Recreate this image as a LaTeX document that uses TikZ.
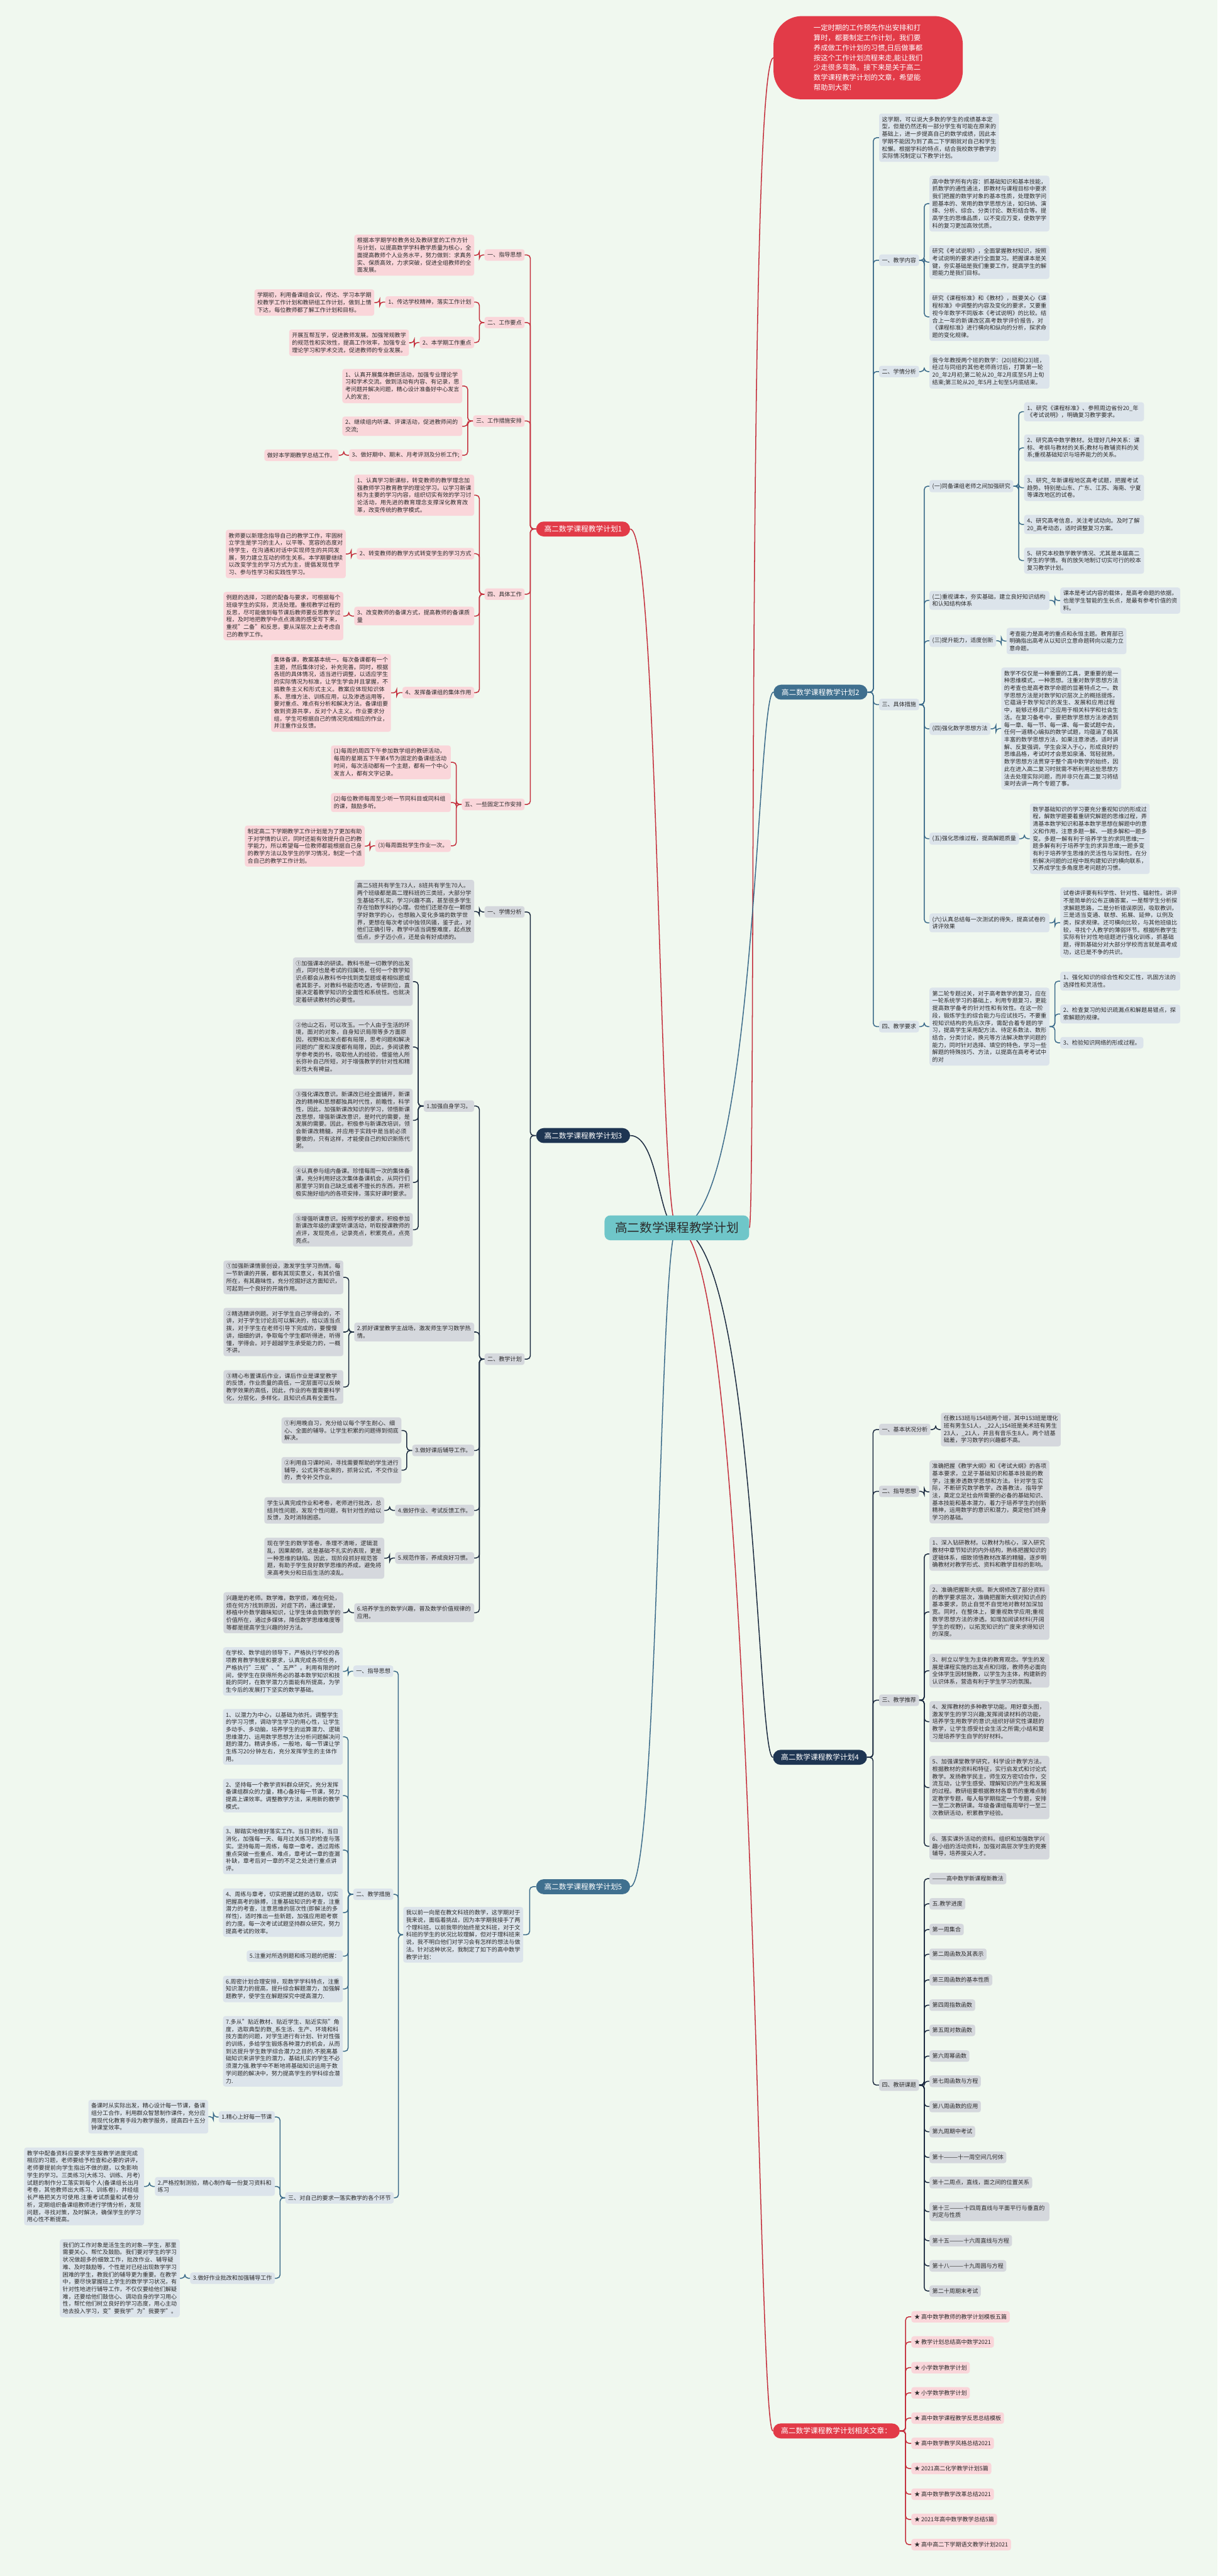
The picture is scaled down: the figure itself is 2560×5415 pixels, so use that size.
\documentclass[tikz,border=0pt]{standalone}
\usepackage{fontspec}
\setmainfont{Noto Sans CJK SC}
\XeTeXlinebreaklocale "zh"
\XeTeXlinebreakskip=0pt plus 1pt
\usetikzlibrary{calc}
\definecolor{bgc}{HTML}{F0F8EF}
\definecolor{pinkbox}{HTML}{FAD6DA}
\definecolor{redline}{HTML}{C4303D}
\definecolor{redlab}{HTML}{E23B48}
\definecolor{bluebox}{HTML}{DCE4EB}
\definecolor{blueline}{HTML}{3C6B8A}
\definecolor{bluelab}{HTML}{40708F}
\definecolor{greybox}{HTML}{D5D8DD}
\definecolor{navyline}{HTML}{1C2B40}
\definecolor{navylab}{HTML}{1E3552}
\definecolor{txt}{HTML}{2B2B2B}
\definecolor{teal}{HTML}{6FC6C9}
\newcommand\fsm{\fontsize{12pt}{15.5pt}\selectfont}
\newcommand\flab{\fontsize{15.5pt}{18pt}\selectfont}
\newcommand\fcen{\fontsize{26pt}{30pt}\selectfont}
\newcommand\fintro{\fontsize{15pt}{21pt}\selectfont}
\pgfdeclarelayer{back}\pgfdeclarelayer{conn}\pgfsetlayers{back,conn,main}
\tikzset{
  nb/.style={rounded corners=5pt, inner xsep=6pt, inner ysep=6.5pt, align=left, font=\fsm, text=txt},
  W/.style={text width=240pt},
  pk/.style={nb, fill=pinkbox},
  bl/.style={nb, fill=bluebox},
  gy/.style={nb, fill=greybox},
  lab/.style={rounded corners=16pt, inner xsep=17pt, inner ysep=8.5pt, font=\flab, text=white},
  cr/.style={draw=redline, line width=2pt, rounded corners=7pt},
  cb/.style={draw=blueline, line width=2pt, rounded corners=7pt},
  cn/.style={draw=navyline, line width=2pt, rounded corners=7pt},
}
\newcommand\RC[3]{\begin{pgfonlayer}{conn}\draw[#1] (#2.east) -- ($(#2.east)!0.5!(#2.east -| #3.west)$) |- (#3.west);\end{pgfonlayer}}
\newcommand\LC[3]{\begin{pgfonlayer}{conn}\draw[#1] (#2.west) -- ($(#2.west)!0.5!(#2.west -| #3.east)$) |- (#3.east);\end{pgfonlayer}}
\begin{document}
\begin{tikzpicture}[x=1pt,y=-1pt]
\begin{pgfonlayer}{back}
\fill[bgc] (0,0) rectangle (2560,5415);
\end{pgfonlayer}
\useasboundingbox (0,0) rectangle (2560,5415);

% ---------- centre and intro ----------
\node[fill=teal, rounded corners=12pt, inner xsep=22pt, inner ysep=14pt, font=\fcen, text=txt] (C) at (1423,2581) {高二数学课程教学计划};
\node[fill=redlab, rounded corners=60pt, minimum width=398pt, minimum height=175pt, anchor=south west, align=left, font=\fintro, text=white] (I) at (1626,209) {一定时期的工作预先作出安排和打\\算时，都要制定工作计划，我们要\\养成做工作计划的习惯,日后做事都\\按这个工作计划流程来走,能让我们\\少走很多弯路。接下来是关于高二\\数学课程教学计划的文章，希望能\\帮助到大家!};

% ---------- branch labels ----------
\node[lab, fill=redlab, anchor=west] (L1) at (1127,1112) {高二数学课程教学计划1};
\node[lab, fill=bluelab, anchor=west] (L2) at (1626,1455) {高二数学课程教学计划2};
\node[lab, fill=navylab, anchor=west] (L3) at (1127,2387) {高二数学课程教学计划3};
\node[lab, fill=navylab, anchor=west] (L4) at (1625,3694) {高二数学课程教学计划4};
\node[lab, fill=bluelab, anchor=west] (L5) at (1127,3966) {高二数学课程教学计划5};
\node[lab, fill=redlab, anchor=west] (L6) at (1625,5110) {高二数学课程教学计划相关文章：};

\begin{pgfonlayer}{conn}
\draw[cr] (C.east) .. controls (1590,2581) and (1570,131) .. (I.west);
\draw[cb] (C.center) .. controls (1590,2581) and (1590,1455) .. (L2.west);
\draw[cn] (C.center) .. controls (1590,2581) and (1590,3694) .. (L4.west);
\draw[cr] (C.center) .. controls (1590,2581) and (1590,5110) .. (L6.west);
\draw[cr] (C.center) .. controls (1385,2581) and (1385,1112) .. (L1.east);
\draw[cn] (C.center) .. controls (1385,2581) and (1385,2387) .. (L3.east);
\draw[cb] (C.center) .. controls (1385,2581) and (1385,3966) .. (L5.east);
\end{pgfonlayer}

% ---------- branch 1 (left, red) ----------
\node[pk, anchor=east] (a1) at (1103,536) {一、指导思想};
\node[pk, W, anchor=east] (a1a) at (997,536.5) {根据本学期学校教务处及教研室的工作方针与计划，以提高数学学科教学质量为核心，全面提高教师个人业务水平，努力做到：求真务实、保质高效，力求突破，促进全组教师的全面发展。};
\node[pk, anchor=east] (a2) at (1103,678) {二、工作要点};
\node[pk, anchor=east] (a2a) at (997,635) {1、传达学校精神，落实工作计划};
\node[pk, W, anchor=east] (a2a1) at (787,636) {学期初，利用备课组会议，传达、学习本学期校教学工作计划和教研组工作计划，做到上情下达，每位教师都了解工作计划和目标。};
\node[pk, anchor=east] (a2b) at (997,720) {2、本学期工作重点};
\node[pk, W, anchor=east] (a2b1) at (860,720.5) {开展互帮互学，促进教师发展。加强常规教学的规范性和实效性，提高工作效率，加强专业理论学习和学术交流，促进教师的专业发展。};
\node[pk, anchor=east] (a3) at (1103,885) {三、工作措施安排};
\node[pk, W, anchor=east] (a3a) at (972,811.5) {1、认真开展集体教研活动，加强专业理论学习和学术交流。做到活动有内容、有记录，思考问题并解决问题，精心设计准备好中心发言人的发言;};
\node[pk, W, anchor=east] (a3b) at (972,896) {2、继续组内听课、评课活动，促进教师间的交流;};
\node[pk, anchor=east] (a3c) at (972,957) {3、做好期中、期末、月考评测及分析工作;};
\node[pk, anchor=east] (a3c1) at (712,957) {做好本学期教学总结工作。};
\node[pk, anchor=east] (a4) at (1103,1249) {四、具体工作};
\node[pk, W, anchor=east] (a4a) at (997,1041) {1、认真学习新课标，转变教师的教学理念加强教师学习教育教学的理论学习。以学习新课标为主要的学习内容，组织切实有效的学习讨论活动，用先进的教育理念支撑深化教育改革，改变传统的教学模式。};
\node[pk, anchor=east] (a4b) at (997,1164) {2、转变教师的教学方式转变学生的学习方式};
\node[pk, W, anchor=east] (a4b1) at (727,1164.5) {教师要以新理念指导自己的教学工作，牢固树立学生是学习的主人，以平等、宽容的态度对待学生，在沟通和对话中实现师生的共同发展，努力建立互动的师生关系。本学期要继续以改变学生的学习方式为主，提倡发现性学习、参与性学习和实践性学习。};
\node[pk, W, anchor=east] (a4c) at (997,1295) {3、改变教师的备课方式，提高教师的备课质量};
\node[pk, W, anchor=east] (a4c1) at (722,1295) {例题的选择，习题的配备与要求，可根据每个班级学生的实际，灵活处理。重视教学过程的反思，尽可能做到每节课后教师要反思教学过程，及时地把教学中点点滴滴的感受写下来，重视"二备"和反思，要从深层次上去考虑自己的教学工作。};
\node[pk, anchor=east] (a4d) at (997,1456) {4、发挥备课组的集体作用};
\node[pk, W, anchor=east] (a4d1) at (822,1456.5) {集体备课，教案基本统一。每次备课都有一个主题，然后集体讨论，补充完善。同时，根据各班的具体情况，适当进行调整，以适应学生的实际情况为标准，让学生学会并且掌握，不搞教条主义和形式主义。教案应体现知识体系、思维方法、训练应用，以及渗透运用等，要对重点、难点有分析和解决方法。备课组要做到资源共享，反对个人主义。作业要求分组，学生可根据自己的情况完成相应的作业，并注重作业反馈。};
\node[pk, anchor=east] (a5) at (1103,1691) {五、一些固定工作安排};
\node[pk, W, anchor=east] (a5a) at (948,1602.5) {(1)每周的周四下午参加数学组的教研活动，每周的星期五下午第4节为固定的备课组活动时间，每次活动都有一个主题，都有一个中心发言人，都有文字记录。};
\node[pk, W, anchor=east] (a5b) at (948,1687) {(2)每位教师每周至少听一节同科目或同科组的课，鼓励多听。};
\node[pk, anchor=east] (a5c) at (948,1778) {(3)每周面批学生作业一次。};
\node[pk, W, anchor=east] (a5c1) at (767,1778.5) {制定高二下学期教学工作计划是为了更加有助于对学情的认识，同时还能有效提升自己的教学能力，所以希望每一位教师都能根据自己身的教学方法以及学生的学习情况，制定一个适合自己的教学工作计划。};
\foreach \c in {a1,a2,a3,a4,a5} {\LC{cr}{L1}{\c}}
\LC{cr}{a1}{a1a}
\LC{cr}{a2}{a2a}\LC{cr}{a2}{a2b}\LC{cr}{a2a}{a2a1}\LC{cr}{a2b}{a2b1}
\LC{cr}{a3}{a3a}\LC{cr}{a3}{a3b}\LC{cr}{a3}{a3c}\LC{cr}{a3c}{a3c1}
\LC{cr}{a4}{a4a}\LC{cr}{a4}{a4b}\LC{cr}{a4}{a4c}\LC{cr}{a4}{a4d}
\LC{cr}{a4b}{a4b1}\LC{cr}{a4c}{a4c1}\LC{cr}{a4d}{a4d1}
\LC{cr}{a5}{a5a}\LC{cr}{a5}{a5b}\LC{cr}{a5}{a5c}\LC{cr}{a5c}{a5c1}

% ---------- branch 2 (right, steel blue) ----------
\node[bl, W, anchor=west] (b1) at (1848,289.5) {这学期，可以说大多数的学生的成绩基本定型，但是仍然还有一部分学生有可能在原来的基础上，进一步提高自己的数学成绩，因此本学期不能因为到了高二下学期就对自己和学生松懈。根据学科的特点，结合我校数学教学的实际情况制定以下教学计划。};
\node[bl, anchor=west] (b2) at (1848,547) {一、教学内容};
\node[bl, W, anchor=west] (b2a) at (1954,428) {高中数学所有内容：抓基础知识和基本技能，抓数学的通性通法，即教材与课程目标中要求我们把握的数学对象的基本性质，处理数学问题基本的、常用的数学思想方法，如归纳、演绎、分析、综合、分类讨论、数形结合等。提高学生的思维品质，以不变应万变，使数学学科的复习更加高效优质。};
\node[bl, W, anchor=west] (b2b) at (1954,551) {研究《考试说明》，全面掌握教材知识，按照考试说明的要求进行全面复习。把握课本是关键，夯实基础是我们重要工作，提高学生的解题能力是我们目标。};
\node[bl, W, anchor=west] (b2c) at (1954,666) {研究《课程标准》和《教材》，既要关心《课程标准》中调整的内容及变化的要求，又要重视今年数学不同版本《考试说明》的比较。结合上一年的新课改区高考数学评价报告，对《课程标准》进行横向和纵向的分析，探求命题的变化规律。};
\node[bl, anchor=west] (b3) at (1848,781) {二、学情分析};
\node[bl, W, anchor=west] (b3a) at (1954,781) {我今年教授两个班的数学：(20)班和(23)班，经过与同组的其他老师商讨后，打算第一轮20\_年2月初;第二轮从20\_年2月底至5月上旬结束;第三轮从20\_年5月上旬至5月底结束。};
\node[bl, anchor=west] (b4) at (1848,1481) {三、具体措施};
\node[bl, anchor=west] (b4a) at (1954,1022) {(一)同备课组老师之间加强研究};
\node[bl, W, anchor=west] (b4a1) at (2153,865.5) {1、研究《课程标准》、参照周边省份20\_年《考试说明》，明确复习教学要求。};
\node[bl, W, anchor=west] (b4a2) at (2153,941.5) {2、研究高中数学教材。处理好几种关系：课标、考纲与教材的关系;教材与教辅资料的关系;重视基础知识与培养能力的关系。};
\node[bl, W, anchor=west] (b4a3) at (2153,1025.5) {3、研究\_年新课程地区高考试题，把握考试趋势。特别是山东、广东、江苏、海南、宁夏等课改地区的试卷。};
\node[bl, W, anchor=west] (b4a4) at (2153,1102.5) {4、研究高考信息，关注考试动向。及时了解20\_高考动态，适时调整复习方案。};
\node[bl, W, anchor=west] (b4a5) at (2153,1178.5) {5、研究本校数学教学情况、尤其是本届高二学生的学情。有的放矢地制订切实可行的校本复习教学计划。};
\node[bl, W, anchor=west] (b4b) at (1954,1262) {(二)重视课本，夯实基础，建立良好知识结构和认知结构体系};
\node[bl, W, anchor=west] (b4b1) at (2229,1262.5) {课本是考试内容的载体，是高考命题的依据，也是学生智能的生长点，是最有参考价值的资料。};
\node[bl, anchor=west] (b4c) at (1954,1347) {(三)提升能力，适度创新};
\node[bl, W, anchor=west] (b4c1) at (2116,1347.5) {考查能力是高考的重点和永恒主题。教育部已明确指出高考从以知识立意命题转向以能力立意命题。};
\node[bl, anchor=west] (b4d) at (1954,1532) {(四)强化数学思想方法};
\node[bl, W, anchor=west] (b4d1) at (2105,1531.5) {数学不仅仅是一种重要的工具，更重要的是一种思维模式，一种思想。注重对数学思想方法的考查也是高考数学命题的显著特点之一。数学思想方法是对数学知识层次上的概括提炼，它蕴涵于数学知识的发生、发展和应用过程中，能够迁移且广泛应用于相关科学和社会生活。在复习备考中，要把数学思想方法渗透到每一章、每一节、每一课、每一套试题中去，任何一道精心编拟的数学试题，均蕴涵了极其丰富的数学思想方法，如果注意渗透，适时讲解、反复强调，学生会深入于心，形成良好的思维品格，考试时才会思如泉涌、驾轻就熟，数学思想方法贯穿于整个高中数学的始终，因此在进入高二复习时就需不断利用这些思想方法去处理实际问题，而并非只在高二复习将结束时去讲一两个专题了事。};
\node[bl, anchor=west] (b4e) at (1954,1763) {(五)强化思维过程，提高解题质量};
\node[bl, W, anchor=west] (b4e1) at (2165,1763) {数学基础知识的学习要充分重视知识的形成过程，解数学题要着重研究解题的思维过程，弄清基本数学知识和基本数学思想在解题中的意义和作用，注意多题一解、一题多解和一题多变。多题一解有利于培养学生的求同思维;一题多解有利于培养学生的求异思维;一题多变有利于培养学生思维的灵活性与深刻性。在分析解决问题的过程中既构建知识的横向联系，又养成学生多角度思考问题的习惯。};
\node[bl, W, anchor=west] (b4f) at (1954,1940) {(六)认真总结每一次测试的得失，提高试卷的讲评效果};
\node[bl, W, anchor=west] (b4f1) at (2229,1939.5) {试卷讲评要有科学性、针对性、辐射性。讲评不是简单的公布正确答案，一是帮学生分析探求解题思路，二是分析错误原因，吸取教训，三是适当变通、联想、拓展、延伸，以例及类，探求规律。还可横向比较，与其他班级比较，寻找个人教学的薄弱环节。根据所教学生实际有针对性地组题进行强化训练，抓基础题，得到基础分对大部分学校而言就是高考成功，这已是不争的共识。};
\node[bl, anchor=west] (b5) at (1848,2158) {四、教学要求};
\node[bl, W, anchor=west] (b5a) at (1954,2158) {第二轮专题过关，对于高考数学的复习，应在一轮系统学习的基础上，利用专题复习，更能提高数学备考的针对性和有效性。在这一阶段，锻炼学生的综合能力与应试技巧，不要重视知识结构的先后次序，需配合着专题的学习，提高学生采用配方法、待定系数法、数形结合，分类讨论，换元等方法解决数学问题的能力，同时针对选择、填空的特色，学习一些解题的特殊技巧、方法，以提高在高考考试中的对};
\node[bl, W, anchor=west] (b5a1) at (2229,2062.5) {1、强化知识的综合性和交汇性，巩固方法的选择性和灵活性。};
\node[bl, W, anchor=west] (b5a2) at (2229,2131.5) {2、检查复习的知识疏漏点和解题易错点，探索解题的规律。};
\node[bl, anchor=west] (b5a3) at (2229,2192) {3、检验知识网络的形成过程。};
\foreach \c in {b1,b2,b3,b4,b5} {\RC{cb}{L2}{\c}}
\foreach \c in {b2a,b2b,b2c} {\RC{cb}{b2}{\c}}
\RC{cb}{b3}{b3a}
\foreach \c in {b4a,b4b,b4c,b4d,b4e,b4f} {\RC{cb}{b4}{\c}}
\foreach \c in {b4a1,b4a2,b4a3,b4a4,b4a5} {\RC{cb}{b4a}{\c}}
\RC{cb}{b4b}{b4b1}\RC{cb}{b4c}{b4c1}\RC{cb}{b4d}{b4d1}\RC{cb}{b4e}{b4e1}\RC{cb}{b4f}{b4f1}
\RC{cb}{b5}{b5a}
\foreach \c in {b5a1,b5a2,b5a3} {\RC{cb}{b5a}{\c}}

% ---------- branch 3 (left, navy) ----------
\node[gy, anchor=east] (c1) at (1103,1917) {一、学情分析};
\node[gy, W, anchor=east] (c1a) at (997,1916) {高二5班共有学生73人，8班共有学生70人。两个班级都是高二理科班的三类班，大部分学生基础不扎实，学习兴趣不高，甚至很多学生存在怕数学科的心理。但他们还是存在一颗想学好数学的心，也想融入变化多端的数学世界，更想在每次考试中独领风骚，鉴于此，对他们正确引导，教学中适当调整难度，起点放低点，步子迈小点，还是会有好成绩的。};
\node[gy, anchor=east] (c2) at (1103,2857) {二、教学计划};
\node[gy, anchor=east] (c2a) at (997,2325) {1.加强自身学习。};
\node[gy, W, anchor=east] (c2a1) at (868,2063.5) {①加强课本的研读。教科书是一切教学的出发点，同时也是考试的归属地，任何一个数学知识点都会从教科书中找到类型题或者相似题或者其影子。对教科书能否吃透，专研到位，直接决定着教学知识的全面性和系统性。也就决定着研读教材的必要性。};
\node[gy, W, anchor=east] (c2a2) at (868,2201) {②他山之石，可以攻玉。一个人由于生活的环境，面对的对象，自身知识局限等多方面原因，视野和出发点都有局限，思考问题和解决问题的广度和深度都有局限，因此，多阅读教学参考类的书，吸取他人的经验，借鉴他人所长弥补自己所短，对于增强教学的针对性和精彩性大有裨益。};
\node[gy, W, anchor=east] (c2a3) at (868,2355) {③强化课改意识。新课改已经全面铺开，新课改的精神和思想都独具时代性，前瞻性，科学性，因此，加强新课改知识的学习，领悟新课改思想，增强新课改意识，是时代的需要，是发展的需要。因此，积极参与新课改培训，领会新课改精髓，并应用于实践中是当前必须要做的，只有这样，才能使自己的知识新陈代谢。};
\node[gy, W, anchor=east] (c2a4) at (868,2485.5) {④认真参与组内备课。珍惜每周一次的集体备课，充分利用好这次集体备课机会，从同行们那里学习到自己缺乏或者不擅长的东西，并积极实施好组内的各项安排，落实好课时要求。};
\node[gy, W, anchor=east] (c2a5) at (868,2585) {⑤增强听课意识。按照学校的要求，积极参加新课改年级的课堂听课活动，听取授课教师的点评，发现亮点，记录亮点，积累亮点，点亮亮点。};
\node[gy, W, anchor=east] (c2b) at (997,2800) {2.抓好课堂教学主战场，激发师生学习数学热情。};
\node[gy, W, anchor=east] (c2b1) at (722,2685) {①加强新课情景创设，激发学生学习热情。每一节新课的开展，都有其现实意义，有其价值所在，有其趣味性，充分挖掘好这方面知识，可起到一个良好的开端作用。};
\node[gy, W, anchor=east] (c2b2) at (722,2800) {②精选精讲例题。对于学生自己学得会的，不讲，对于学生讨论后可以解决的，给以适当点拨，对于学生在老师引导下完成的，要慢慢讲，细细的讲，争取每个学生都听得进，听得懂，学得会。对于超越学生承受能力的，一概不讲。};
\node[gy, W, anchor=east] (c2b3) at (722,2915.5) {③精心布置课后作业，课后作业是课堂教学的反馈，作业质量的高低，一定层面可以反映教学效果的高低，因此，作业的布置需要科学化，分层化，多样化，且知识点具有全面性。};
\node[gy, anchor=east] (c2c) at (997,3049) {3.做好课后辅导工作。};
\node[gy, W, anchor=east] (c2c1) at (844,3007) {①利用晚自习，充分给以每个学生耐心、细心、全面的辅导。让学生积累的问题得到彻底解决。};
\node[gy, W, anchor=east] (c2c2) at (844,3090.5) {②利用自习课时间，寻找需要帮助的学生进行辅导，公式背不出来的，抓背公式，不交作业的，责令补交作业。};
\node[gy, anchor=east] (c2d) at (997,3175) {4.做好作业、考试反馈工作。};
\node[gy, W, anchor=east] (c2d1) at (808,3175) {学生认真完成作业和考卷，老师进行批改，总结共性问题，发现个性问题，有针对性的给以反馈，及时消除困惑。};
\node[gy, anchor=east] (c2e) at (997,3275) {5.规范作答，养成良好习惯。};
\node[gy, W, anchor=east] (c2e1) at (808,3275.5) {现在学生的数学答卷，条理不清晰，逻辑混乱，因果颠倒，这是基础不扎实的表现，更是一种思维的缺陷。因此，现阶段抓好规范答题，有助于学生良好数学思维的养成，避免将来高考失分和日后生活的凌乱。};
\node[gy, W, anchor=east] (c2f) at (997,3390) {6.培养学生的数学兴趣，普及数学价值规律的应用。};
\node[gy, W, anchor=east] (c2f1) at (722,3390) {兴趣是的老师。数学难，数学烦，难在何处，烦在何方?找到原因，对症下药，通过课堂，移植中外数学趣味知识，让学生体会到数学的价值所在，通过多媒体，降低数学思维难度等等都是提高学生兴趣的好方法。};
\LC{cn}{L3}{c1}\LC{cn}{L3}{c2}\LC{cn}{c1}{c1a}
\foreach \c in {c2a,c2b,c2c,c2d,c2e,c2f} {\LC{cn}{c2}{\c}}
\foreach \c in {c2a1,c2a2,c2a3,c2a4,c2a5} {\LC{cn}{c2a}{\c}}
\foreach \c in {c2b1,c2b2,c2b3} {\LC{cn}{c2b}{\c}}
\LC{cn}{c2c}{c2c1}\LC{cn}{c2c}{c2c2}\LC{cn}{c2d}{c2d1}\LC{cn}{c2e}{c2e1}\LC{cn}{c2f}{c2f1}

% ---------- branch 4 (right, navy) ----------
\node[gy, anchor=west] (d1) at (1848,3005) {一、基本状况分析};
\node[gy, W, anchor=west] (d1a) at (1978,3005) {任教153班与154班两个班，其中153班是理化班有男生51人，\_22人;154班是美术班有男生23人，\_21人，并且有音乐生8人。两个班基础差，学习数学的兴趣都不高。};
\node[gy, anchor=west] (d2) at (1848,3135) {二、指导思想};
\node[gy, W, anchor=west] (d2a) at (1954,3136) {准确把握《教学大纲》和《考试大纲》的各项基本要求，立足于基础知识和基本技能的教学，注重渗透数学思想和方法。针对学生实际，不断研究数学教学，改善教法，指导学法，奠定立足社会所需要的必备的基础知识、基本技能和基本潜力，着力于培养学生的创新精神，运用数学的意识和潜力，奠定他们终身学习的基础。};
\node[gy, anchor=west] (d3) at (1848,3574) {三、教学推荐};
\node[gy, W, anchor=west] (d3a) at (1954,3266.5) {1、深入钻研教材。以教材为核心，深入研究教材中章节知识的内外结构，熟练把握知识的逻辑体系，细致领悟教材改革的精髓，逐步明确教材对教学形式、资料和教学目标的影响。};
\node[gy, W, anchor=west] (d3b) at (1954,3388.5) {2、准确把握新大纲。新大纲修改了部分资料的教学要求层次，准确把握新大纲对知识点的基本要求，防止自觉不自觉地对教材加深加宽。同时，在整体上，要重视数学应用;重视数学思想方法的渗透。如增加阅读材料(开阔学生的视野)，以拓宽知识的广度来求得知识的深度。};
\node[gy, W, anchor=west] (d3c) at (1954,3512) {3、树立以学生为主体的教育观念。学生的发展是课程实施的出发点和归宿，教师务必面向全体学生因材施教，以学生为主体，构建新的认识体系，营造有利于学生学习的氛围。};
\node[gy, W, anchor=west] (d3d) at (1954,3619) {4、发挥教材的多种教学功能。用好章头图，激发学生的学习兴趣;发挥阅读材料的功能，培养学生用数学的意识;组织好研究性课题的教学，让学生感受社会生活之所需;小结和复习是培养学生自学的好材料。};
\node[gy, W, anchor=west] (d3e) at (1954,3757.5) {5、加强课堂教学研究，科学设计教学方法。根据教材的资料和特征，实行启发式和讨论式教学。发扬教学民主，师生双方密切合作，交流互动，让学生感受、理解知识的产生和发展的过程。教研组要根据教材各章节的重难点制定教学专题，每人每学期指定一个专题，安排一至二次教研课。年级备课组每周举行一至二次教研活动，积累教学经验。};
\node[gy, W, anchor=west] (d3f) at (1954,3881) {6、落实课外活动的资料。组织和加强数学兴趣小组的活动资料，加强对高层次学生的竞赛辅导，培养拔尖人才。};
\node[gy, anchor=west] (d4) at (1848,4383) {四、教研课题};
\node[gy, anchor=west] (e1) at (1954,3949) {———高中数学新课程新教法};
\node[gy, anchor=west] (e2) at (1954,4002) {五.教学进度};
\node[gy, anchor=west] (e3) at (1954,4056) {第一周集合};
\node[gy, anchor=west] (e4) at (1954,4108) {第二周函数及其表示};
\node[gy, anchor=west] (e5) at (1954,4162) {第三周函数的基本性质};
\node[gy, anchor=west] (e6) at (1954,4215) {第四周指数函数};
\node[gy, anchor=west] (e7) at (1954,4268) {第五周对数函数};
\node[gy, anchor=west] (e8) at (1954,4322) {第六周幂函数};
\node[gy, anchor=west] (e9) at (1954,4375) {第七周函数与方程};
\node[gy, anchor=west] (e10) at (1954,4428) {第八周函数的应用};
\node[gy, anchor=west] (e11) at (1954,4481) {第九周期中考试};
\node[gy, anchor=west] (e12) at (1954,4535) {第十———十一周空间几何体};
\node[gy, anchor=west] (e13) at (1954,4588) {第十二周点，直线，面之间的位置关系};
\node[gy, W, anchor=west] (e14) at (1954,4649) {第十三———十四周直线与平面平行与垂直的判定与性质};
\node[gy, anchor=west] (e15) at (1954,4710) {第十五———十六周直线与方程};
\node[gy, anchor=west] (e16) at (1954,4763) {第十八———十九周圆与方程};
\node[gy, anchor=west] (e17) at (1954,4816) {第二十周期末考试};
\foreach \c in {d1,d2,d3,d4} {\RC{cn}{L4}{\c}}
\RC{cn}{d1}{d1a}\RC{cn}{d2}{d2a}
\foreach \c in {d3a,d3b,d3c,d3d,d3e,d3f} {\RC{cn}{d3}{\c}}
\foreach \c in {e1,e2,e3,e4,e5,e6,e7,e8,e9,e10,e11,e12,e13,e14,e15,e16,e17} {\RC{cn}{d4}{\c}}

% ---------- branch 5 (left, steel blue) ----------
\node[bl, W, anchor=east] (f0) at (1100,4067) {我以前一向是在教文科班的数学，这学期对于我来说，面临着挑战，因为本学期我接手了两个理科班。以前我带的始终是文科班，对于文科班的学生的状况比较理解，但对于理科班来说，我不明白他们对学习会有怎样的想法与做法。针对这种状况，我制定了如下的高中数学教学计划：};
\node[bl, anchor=east] (f1) at (827,3513) {一、指导思想};
\node[bl, W, anchor=east] (f1a) at (721,3513.5) {在学校、数学组的领导下，严格执行学校的各项教育教学制度和要求，认真完成各项任务，严格执行"三规"、"五严"。利用有限的时间，使学生在获得所务必的基本数学知识和技能的同时，在数学潜力方面能有所提高，为学生今后的发展打下坚实的数学基础。};
\node[bl, anchor=east] (f2) at (827,3982) {二、教学措施};
\node[bl, W, anchor=east] (f2a) at (721,3651) {1、以潜力为中心，以基础为依托，调整学生的学习习惯，调动学生学习的用心性，让学生多动手、多动脑，培养学生的运算潜力、逻辑思维潜力、运用数学思想方法分析问题解决问题的潜力。精讲多练，一般地，每一节课让学生练习20分钟左右，充分发挥学生的主体作用。};
\node[bl, W, anchor=east] (f2b) at (721,3774.5) {2、坚持每一个教学资料群众研究，充分发挥备课组群众的力量，精心备好每一节课，努力提高上课效率。调整教学方法，采用新的教学模式。};
\node[bl, W, anchor=east] (f2c) at (721,3889) {3、脚踏实地做好落实工作。当日资料，当日消化，加强每一天、每月过关练习的检查与落实。坚持每周一周练，每章一章考。透过周练重点突破一些重点、难点，章考试一章的查漏补缺，章考后对一章的不足之处进行重点讲评。};
\node[bl, W, anchor=east] (f2d) at (721,4020.5) {4、周练与章考，切实把握试题的选取，切实把握高考的脉搏，注重基础知识的考查，注重潜力的考查，注意思维的层次性(即解法的多样性)，适时推出一些新题，加强应用题考察的力度。每一次考试试题坚持群众研究，努力提高考试的效率。};
\node[bl, anchor=east] (f2e) at (721,4112) {5.注重对所选例题和练习题的把握：};
\node[bl, W, anchor=east] (f2f) at (721,4181) {6.周密计划合理安排，现数学学科特点，注重知识潜力的提高，提升综合解题潜力，加强解题教学，使学生在解题探究中提高潜力.};
\node[bl, W, anchor=east] (f2g) at (721,4312) {7.多从"贴近教材、贴近学生、贴近实际"角度，选取典型的数\_系生活、生产、环境和科技方面的问题，对学生进行有计划、针对性强的训练，多给学生锻炼各种潜力的机会，从而到达提升学生数学综合潜力之目的.不脱离基础知识来讲学生的潜力，基础扎实的学生不必须潜力强.教学中不断地将基础知识运用于数学问题的解决中，努力提高学生的学科综合潜力.};
\node[bl, anchor=east] (f3) at (828,4620) {三、对自己的要求一落实教学的各个环节};
\node[bl, anchor=east] (f3a) at (578,4450) {1.精心上好每一节课};
\node[bl, W, anchor=east] (f3a1) at (438,4449.5) {备课时从实际出发，精心设计每一节课，备课组分工合作，利用群众智慧制作课件，充分应用现代化教育手段为教学服务，提高四十五分钟课堂效率。};
\node[bl, W, anchor=east] (f3b) at (578,4596) {2.严格控制测验，精心制作每一份复习资料和练习};
\node[bl, W, anchor=east] (f3b1) at (303,4596) {教学中配备资料应要求学生按教学进度完成相应的习题，老师要给予检查和必要的讲评，老师要提前向学生指出不做的题，以免影响学生的学习。三类练习(大练习、训练、月考)试题的制作分工落实到每个人(备课组长出月考卷，其他教师出大练习、训练卷)，并经组长严格把关方可使用.注重考试质量和试卷分析，定期组织备课组教师进行学情分析，发现问题，寻找对策，及时解决，确保学生的学习用心性不断提高。};
\node[bl, anchor=east] (f3c) at (578,4789) {3.做好作业批改和加强辅导工作};
\node[bl, W, anchor=east] (f3c1) at (378,4789) {我们的工作对象是活生生的对象—学生，那里需要关心、帮忙及鼓励。我们要对学生的学习状况做超多的细致工作，批改作业、辅导疑难、及时鼓励等，个性是对已经出现数学学习困难的学生，教我们的辅导更为重要。在教学中，要尽快掌握班上学生的数学学习状况，有针对性地进行辅导工作，不仅仅要给他们解疑难，还要给他们鼓信心、调动自身的学习用心性，帮忙他们树立良好的学习态度，用心主动地去投入学习，变"要我学"为"我要学"。};
\LC{cb}{L5}{f0}
\foreach \c in {f1,f2,f3} {\LC{cb}{f0}{\c}}
\LC{cb}{f1}{f1a}
\foreach \c in {f2a,f2b,f2c,f2d,f2e,f2f,f2g} {\LC{cb}{f2}{\c}}
\foreach \c in {f3a,f3b,f3c} {\LC{cb}{f3}{\c}}
\LC{cb}{f3a}{f3a1}\LC{cb}{f3b}{f3b1}\LC{cb}{f3c}{f3c1}

% ---------- related articles (right, red) ----------
\node[pk, anchor=west] (g1) at (1916,4870) {★ 高中数学教师的教学计划模板五篇};
\node[pk, anchor=west] (g2) at (1916,4923) {★ 教学计划总结高中数学2021};
\node[pk, anchor=west] (g3) at (1916,4977) {★ 小学数学教学计划};
\node[pk, anchor=west] (g4) at (1916,5030) {★ 小学数学教学计划};
\node[pk, anchor=west] (g5) at (1916,5083) {★ 高中数学课程教学反思总结模板};
\node[pk, anchor=west] (g6) at (1916,5136) {★ 高中数学教学风格总结2021};
\node[pk, anchor=west] (g7) at (1916,5189) {★ 2021高二化学教学计划5篇};
\node[pk, anchor=west] (g8) at (1916,5243) {★ 高中数学教学改革总结2021};
\node[pk, anchor=west] (g9) at (1916,5296) {★ 2021年高中数学教学总结5篇};
\node[pk, anchor=west] (g10) at (1916,5349) {★ 高中高二下学期语文教学计划2021};
\foreach \c in {g1,g2,g3,g4,g5,g6,g7,g8,g9,g10} {\RC{cr}{L6}{\c}}
\end{tikzpicture}
\end{document}
